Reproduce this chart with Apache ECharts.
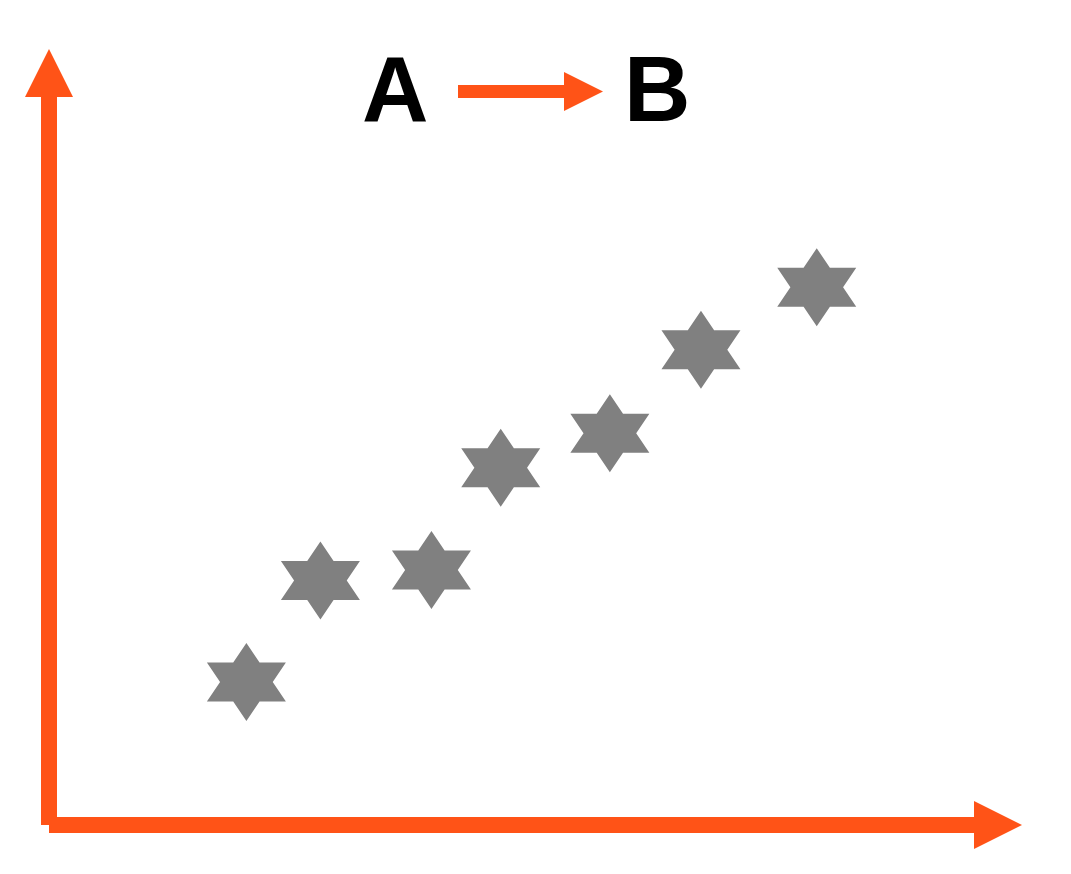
<!DOCTYPE html>
<html>
<head>
<meta charset="utf-8">
<title>A → B</title>
<script src="https://cdn.jsdelivr.net/npm/echarts@6/dist/echarts.min.js"></script>
<style>
  html, body { margin: 0; padding: 0; background: #fff; }
  #main { width: 1071px; height: 874px; }
</style>
</head>
<body>
<div id="main"></div>
<script>
// values (axes have no ticks, 0..100 on both)
var xValues = [20.8, 28.6, 40.3, 47.6, 59.1, 68.7, 80.9];
var yValues = [19.0, 32.5, 33.9, 47.5, 52.1, 63.2, 71.5];
var fromLabel = 'A';
var toLabel = 'B';

var orange = '#FF5317';
var gray = '#808080';
// six pointed star, stretched by echarts to symbolSize
var starPath = 'path://M87,0L116,50L174,50L145,100L174,150L116,150L87,200L58,150L0,150L29,100L0,50L58,50Z';

var points = xValues.map(function (x, i) { return [x, yValues[i]]; });

var axisBase = {
    type: 'value',
    min: 0,
    max: 100,
    splitLine: { show: false },
    axisTick: { show: false },
    axisLabel: { show: false },
    axisLine: {
        show: true,
        onZero: false,
        symbol: ['none', 'triangle'],
        symbolSize: [48, 48],
        lineStyle: { color: orange, width: 16, cap: 'butt' }
    }
};

var chart = echarts.init(document.getElementById('main'), null, { renderer: 'canvas' });
chart.setOption({
    backgroundColor: '#fff',
    animation: false,
    grid: { left: 49, right: 73, top: 73, bottom: 49 },
    xAxis: axisBase,
    yAxis: axisBase,
    graphic: [
        {
            type: 'text', left: 362, top: 50,
            style: { text: fromLabel, fill: '#000', font: 'bold 92px "Liberation Sans", Arial, sans-serif' }
        },
        {
            type: 'polygon',
            shape: { points: [[458, 85], [564, 85], [564, 72], [603, 91.5], [564, 111], [564, 98], [458, 98]] },
            style: { fill: orange }
        },
        {
            type: 'text', left: 624, top: 50,
            style: { text: toLabel, fill: '#000', font: 'bold 92px "Liberation Sans", Arial, sans-serif' }
        }
    ],
    series: [{
        type: 'scatter',
        data: points,
        symbol: starPath,
        symbolSize: [79, 78],
        itemStyle: { color: gray, opacity: 1 }
    }]
});
</script>
</body>
</html>
